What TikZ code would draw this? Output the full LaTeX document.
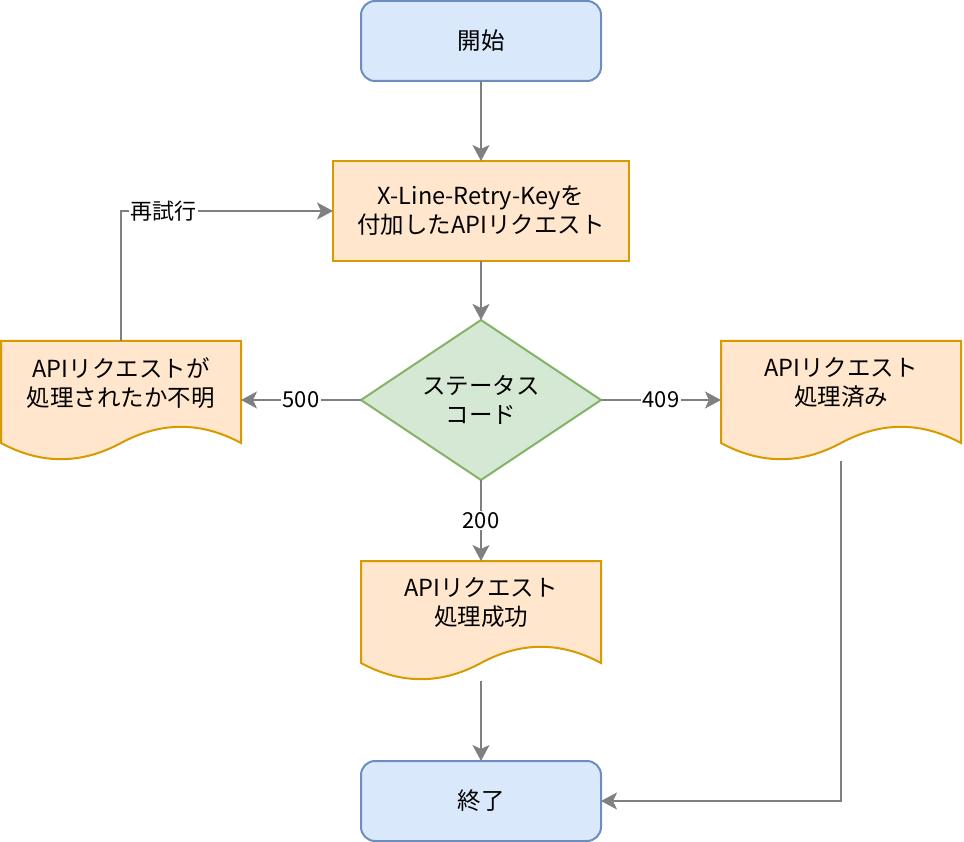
\documentclass[tikz,border=0pt]{standalone}
\usepackage{fontspec}
\setmainfont{Noto Sans CJK JP}
\usetikzlibrary{shapes.geometric,arrows.meta}
\definecolor{bluefill}{HTML}{DAE8FC}
\definecolor{bluedraw}{HTML}{6C8EBF}
\definecolor{orangefill}{HTML}{FFE6CC}
\definecolor{orangedraw}{HTML}{D79B00}
\definecolor{greenfill}{HTML}{D5E8D4}
\definecolor{greendraw}{HTML}{82B366}
\definecolor{edgegray}{HTML}{808080}
\tikzset{
 box/.style={line width=2pt, outer sep=0pt, inner sep=0pt, align=center, font=\fontsize{23.5}{29}\selectfont},
 terminal/.style={box, rounded corners=14pt, fill=bluefill, draw=bluedraw, minimum width=240pt, minimum height=80pt},
 process/.style={box, fill=orangefill, draw=orangedraw, minimum width=296pt, minimum height=100pt},
 decision/.style={box, diamond, aspect=1.5, fill=greenfill, draw=greendraw, minimum width=240pt, minimum height=160pt},
 docbox/.style={box, minimum width=240pt, minimum height=120pt},
 docline/.style={line width=2pt, fill=orangefill, draw=orangedraw},
 edge/.style={line width=2pt, draw=edgegray, -{Stealth[length=16pt,width=17pt,inset=4pt]}},
 elabel/.style={fill=white, inner sep=1.5pt, font=\fontsize{22}{26}\selectfont},
}
% document shape: flat top, wavy bottom
\newcommand\docwave[1]{%
 \draw[docline] (#1.north west) -- (#1.north east) -- ([yshift=18pt]#1.south east)
  .. controls ([xshift=-40pt,yshift=39.6pt]#1.south east) and ([xshift=40pt,yshift=39.6pt]#1.south) .. ([yshift=18pt]#1.south)
  .. controls ([xshift=-40pt,yshift=-3.6pt]#1.south) and ([xshift=40pt,yshift=-3.6pt]#1.south west) .. ([yshift=18pt]#1.south west)
  -- cycle;}
\begin{document}
\begin{tikzpicture}[x=1pt,y=-1pt]
 \useasboundingbox (0,0) rectangle (964,842);
 \node[terminal] (start) at (481,41) {開始};
 \node[process] (req) at (481,211) {X-Line-Retry-Keyを\\付加したAPIリクエスト};
 \node[decision] (code) at (481,400) {ステータス\\コード};
 \node[docbox] (ldoc) at (121,401) {};
 \node[docbox] (rdoc) at (841,401) {};
 \node[docbox] (sdoc) at (481,621) {};
 \docwave{ldoc}
 \docwave{rdoc}
 \docwave{sdoc}
 \node[box] (ldoc-t) at ([yshift=18pt]ldoc.center) {APIリクエストが\\処理されたか不明};
 \node[box] (rdoc-t) at ([yshift=18pt]rdoc.center) {APIリクエスト\\処理済み};
 \node[box] (sdoc-t) at ([yshift=18pt]sdoc.center) {APIリクエスト\\処理成功};
 \node[terminal] (end) at (481,801) {終了};
 \draw[edge] (start) -- (req);
 \draw[edge] (req) -- (code);
 \draw[edge] (code.west) -- node[elabel] {500} (code.west -| ldoc.east);
 \draw[edge] (code.east) -- node[elabel] {409} (code.east -| rdoc.west);
 \draw[edge] (code) -- node[elabel] {200} (sdoc);
 \draw[edge] (sdoc) -- (end);
 \draw[edge] (ldoc.north) |- node[elabel, pos=0.6] {再試行} (req.west);
 \draw[edge] (rdoc.south) |- (end.east);
\end{tikzpicture}
\end{document}
